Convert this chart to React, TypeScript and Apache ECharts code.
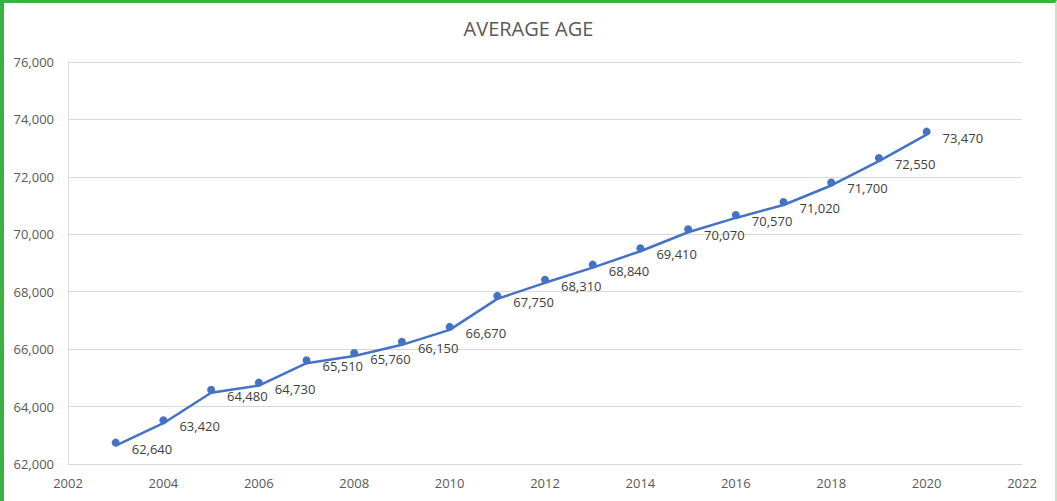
import React, { useEffect, useRef } from "react";
import * as echarts from "echarts";

const years = [2003, 2004, 2005, 2006, 2007, 2008, 2009, 2010, 2011, 2012, 2013, 2014, 2015, 2016, 2017, 2018, 2019, 2020];
const averageAge = [62640, 63420, 64480, 64730, 65510, 65760, 66150, 66670, 67750, 68310, 68840, 69410, 70070, 70570, 71020, 71700, 72550, 73470];
const titleText = "AVERAGE AGE";

const fmt = (v: number) => v.toLocaleString("en-US");

export default function App() {
  const ref = useRef<HTMLDivElement>(null);
  useEffect(() => {
    if (!ref.current) return;
    const chart = echarts.init(ref.current, undefined, { renderer: "svg" });
    const font = "Open Sans";
    chart.setOption({
      animation: false,
      backgroundColor: "#ffffff",
      title: {
        text: titleText,
        left: "center",
        top: 13,
        textStyle: { fontFamily: font, fontSize: 20, fontWeight: "normal", color: "#595959" },
      },
      grid: { left: 68, right: 35, top: 62, bottom: 37, containLabel: false },
      xAxis: {
        type: "value",
        min: 2002,
        max: 2022,
        interval: 2,
        axisLine: { show: true, lineStyle: { color: "#d9d9d9", width: 1 } },
        axisTick: { show: false },
        splitLine: { show: false },
        axisLabel: {
          formatter: (v: number) => String(v),
          color: "#595959",
          fontFamily: font,
          fontSize: 13,
          margin: 12,
        },
      },
      yAxis: {
        type: "value",
        min: 62000,
        max: 76000,
        interval: 2000,
        axisLine: { show: true, lineStyle: { color: "#d9d9d9", width: 1 } },
        axisTick: { show: false },
        splitLine: { show: true, lineStyle: { color: "#d9d9d9", width: 1 } },
        axisLabel: {
          formatter: (v: number) => fmt(v),
          color: "#595959",
          fontFamily: font,
          fontSize: 13,
          margin: 14,
        },
      },
      series: [
        {
          type: "line",
          data: years.map((y, i) => [y, averageAge[i]]),
          lineStyle: { color: "#4472C4", width: 2.5 },
          itemStyle: { color: "#4472C4" },
          symbol: "circle",
          symbolSize: 8,
          symbolOffset: [0, -3],
          showAllSymbol: true,
          label: {
            show: true,
            position: "right",
            distance: 12,
            offset: [0, 6],
            formatter: (p: any) => fmt(p.value[1]),
            color: "#404040",
            fontFamily: font,
            fontSize: 13,
          },
        },
      ],
    });
    return () => chart.dispose();
  }, []);
  return (
    <div style={{ position: "absolute", left: 0, top: 0, width: 1057, height: 501, background: "#fff" }}>
      <div ref={ref} style={{ position: "absolute", left: 0, top: 0, width: 1057, height: 501 }} />
      <div
        style={{
          position: "absolute",
          left: 0,
          top: 0,
          width: 1057,
          height: 501,
          boxSizing: "border-box",
          borderLeft: "4px solid #3cb043",
          borderTop: "3px solid #3cb043",
          borderRight: "2px solid #c4e6c4",
          pointerEvents: "none",
        }}
      />
    </div>
  );
}
